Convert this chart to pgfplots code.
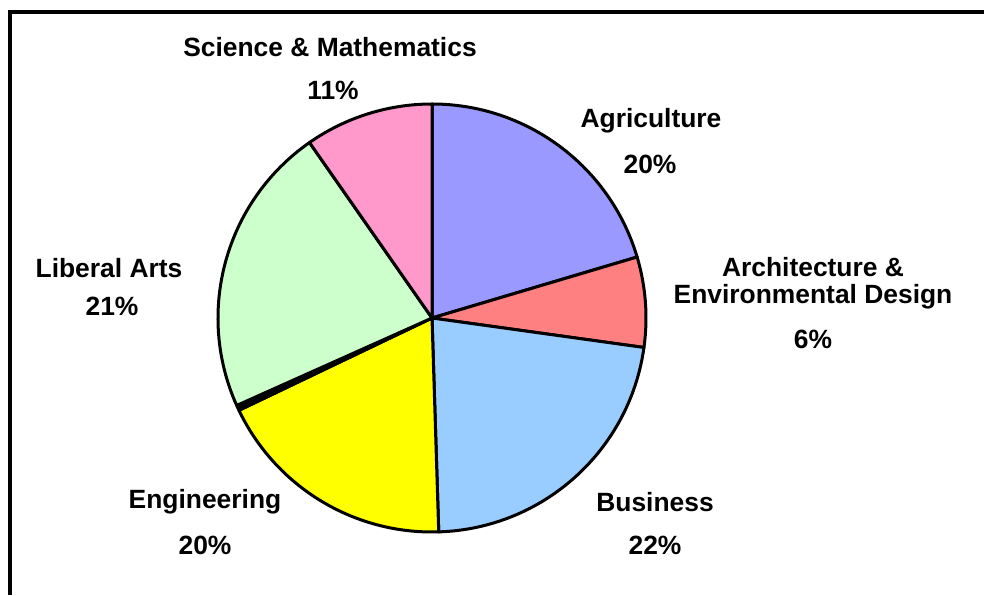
\documentclass[border=0pt]{standalone}
\usepackage{pgfplots}
\pgfplotsset{compat=1.18}
\usepackage{fontspec}
\setmainfont{Liberation Sans}

\definecolor{agr}{HTML}{9999FF}
\definecolor{arch}{HTML}{FF8080}
\definecolor{bus}{HTML}{99CCFF}
\definecolor{eng}{HTML}{FFFF00}
\definecolor{lib}{HTML}{CCFFCC}
\definecolor{sci}{HTML}{FF99CC}

\tikzset{lbl/.style={font=\fontsize{13.2}{15}\selectfont\bfseries,inner sep=0pt}}

\begin{document}
\begin{tikzpicture}
\begin{axis}[width=492pt,height=297.5pt,scale only axis,hide axis,
  xmin=0,xmax=984,ymin=0,ymax=595,clip=false]
\coordinate (C) at (axis cs:432,277);
% frame (top and left edges only)
\draw[line width=2pt] (axis cs:8,583) -- (axis cs:984,583);
\draw[line width=2pt] (axis cs:10,584) -- (axis cs:10,0);
% labels
\node[lbl] at (axis cs:330,548) {Science \& Mathematics};
\node[lbl] at (axis cs:333,505) {11\%};
\node[lbl] at (axis cs:651,474) {Agriculture};
\node[lbl] at (axis cs:650,431) {20\%};
\node[lbl] at (axis cs:813,328) {Architecture \&};
\node[lbl] at (axis cs:813,298) {Environmental Design};
\node[lbl] at (axis cs:813,256) {6\%};
\node[lbl] at (axis cs:109,327) {Liberal Arts};
\node[lbl] at (axis cs:112,289) {21\%};
\node[lbl] at (axis cs:205,93) {Engineering};
\node[lbl] at (axis cs:205,50) {20\%};
\node[lbl] at (axis cs:655,93) {Business};
\node[lbl] at (axis cs:655,50) {22\%};
\end{axis}
% slices, clockwise from 12 o'clock; shares in percent
\foreach \v/\c [remember=\b as \a (initially 90)] in
  {20.4/agr, 6.8/arch, 22.3/bus, 18.4/eng, 0.4/black, 22.0/lib, 9.7/sci} {
  \pgfmathsetmacro\b{\a-3.6*\v}
  \filldraw[fill=\c,draw=black,line width=1.5pt,line join=round]
    (C) -- ++(\a:107pt) arc[start angle=\a,end angle=\b,radius=107pt] -- cycle;
}
\pgfresetboundingbox
\useasboundingbox (current axis.south west) rectangle (current axis.north east);
\end{tikzpicture}
\end{document}
